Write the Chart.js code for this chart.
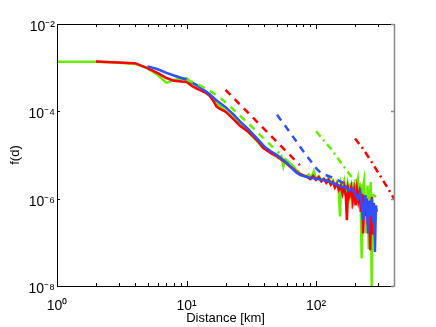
<!DOCTYPE html>
<html>
<head>
<meta charset="utf-8">
<script src="https://cdn.jsdelivr.net/npm/chart.js@4.4.1/dist/chart.umd.min.js"></script>
<style>
html,body{margin:0;padding:0;background:#fff;}
#wrap{width:436px;height:327px;}
</style>
</head>
<body>
<div id="wrap"><canvas id="c" width="436" height="327"></canvas></div>
<script>
// ---- data ----
const greenX = [1,2,3,4,5,6,7,8,9,10,11,12,13,14,15,16,17,18,19,20,22,24,26,28,30,33,36,39,42,45,48,51,54,56,58,61,64,67,70,73,76,80,84,88,92,96,100,105,110,115,120,125,130,135,140,145,150,153,156,160,165,170,175,180,185,190,195,200,205,210,215,220,225,230,235,240,245,250,255,260,265,269,273,278];
const greenY = [1.37e-3,1.37e-3,1.3e-3,1.22e-3,9.6e-4,6.8e-4,4.5e-4,5.2e-4,5.6e-4,5.8e-4,4.3e-4,3.7e-4,3.5e-4,2.9e-4,2.5e-4,2.1e-4,1.5e-4,1.35e-4,1.2e-4,1.02e-4,8.2e-5,6.3e-5,5.0e-5,4.1e-5,3.3e-5,2.5e-5,1.9e-5,1.45e-5,1.3e-5,1.15e-5,1.0e-5,8.5e-6,9.5e-6,5.5e-6,8e-6,7e-6,6.2e-6,5.5e-6,4.6e-6,4.2e-6,3.6e-6,3.4e-6,3.2e-6,3.6e-6,3.0e-6,4.2e-6,2.8e-6,3.3e-6,2.6e-6,2.9e-6,2.4e-6,3.1e-6,2.2e-6,2.6e-6,1.9e-6,2.4e-6,1.5e-6,3.9e-7,2.2e-6,1.7e-6,2.5e-6,1.3e-6,2.2e-6,1.2e-6,2.3e-6,6e-7,2.4e-6,1.0e-6,2.0e-6,2.8e-6,8e-7,2.2e-6,4.3e-8,1.8e-6,2.6e-6,5e-7,1.6e-7,2.0e-6,7e-8,1.1e-6,2.4e-6,1e-8,8e-7,6e-7];

const redX = [2,4,5,6,7,8,10,11,12,14,15,16,17,18,20,23,26,30,33,36,39,42,46,50,54,58,62,66,70,75,80,85,90,95,100,105,110,115,120,125,130,135,140,145,150,155,160,165,170,173,177,182,187,192,197,202,207,212,217,222,227,231,236,241,246,251,256,262,266,270,274];
const redY = [1.39e-3,1.27e-3,9.8e-4,7.5e-4,5.8e-4,5.0e-4,4.7e-4,3.8e-4,3.3e-4,2.7e-4,2.3e-4,1.8e-4,1.3e-4,1.15e-4,9.8e-5,6.6e-5,4.6e-5,3.4e-5,2.6e-5,2.0e-5,1.45e-5,1.25e-5,1.05e-5,9.5e-6,7.8e-6,6.8e-6,5.6e-6,5.0e-6,4.2e-6,3.7e-6,3.4e-6,3.2e-6,2.8e-6,3.3e-6,2.7e-6,3.1e-6,2.5e-6,2.8e-6,2.3e-6,2.7e-6,2.1e-6,2.4e-6,1.8e-6,2.2e-6,1.6e-6,2.0e-6,1.3e-6,1.9e-6,1.1e-6,3.2e-7,1.7e-6,1.2e-6,1.8e-6,9e-7,1.5e-6,7e-7,1.6e-6,9e-7,1.4e-6,5e-7,1.3e-6,1.6e-7,1.2e-6,4e-7,1.0e-6,2.5e-7,8e-7,6.6e-8,6e-7,1.1e-6,1.5e-7];

const blueX = [5,6,7,8,10,12,15,17,20,23,26,30,35,40,45,50,55,60,65,70,75,80,90,100,110,120,130,140,150,160,170,180,190,200,210,220,231,240,248,253,258,265,270,276,280,285,290,295];
const blueY = [1.07e-3,9.2e-4,7.6e-4,6.6e-4,5.3e-4,4.0e-4,2.5e-4,1.8e-4,1.25e-4,8.5e-5,5.8e-5,3.9e-5,2.4e-5,1.55e-5,1.2e-5,1.0e-5,8e-6,6.4e-6,5e-6,4e-6,3.5e-6,3.3e-6,3.0e-6,2.9e-6,2.7e-6,2.6e-6,2.4e-6,2.2e-6,2.0e-6,1.8e-6,1.9e-6,1.5e-6,1.7e-6,1.3e-6,1.0e-6,1.4e-6,3.2e-7,1.2e-6,5e-7,1.6e-7,9e-7,4e-7,1.0e-6,3e-7,8e-7,6e-8,7e-7,5e-7];

const greenDashX = [10,12,15,18,22,30,40,52];
const greenDashY = [5.3e-4,4.3e-4,3.0e-4,2.1e-4,1.25e-4,5.3e-5,2.3e-5,1.1e-5];
const redDashX = [20,75];
const redDashY = [3.1e-4,5.9e-6];
const blueDashX = [50,60,80,100,110,135,180];
const blueDashY = [8.3e-5,4.0e-5,1.2e-5,5.0e-6,3.8e-6,3.0e-6,2.0e-6];
const greenDotX = [100,130,160,190,230,290];
const greenDotY = [3.5e-5,1.4e-5,6e-6,3e-6,1.8e-6,1.1e-6];
const redDotX = [200,230,270,320,360,400];
const redDotY = [2.4e-5,1.4e-5,6.8e-6,3.0e-6,1.7e-6,1.0e-6];

const xTickValues = [1,2,3,4,5,6,7,8,9,10,20,30,40,50,60,70,80,90,100,200,300,400];
const xLabelValues = [1,10,100];
const xTickLabels = ['10⁰','10¹','10²'];
const yTickValues = [1e-8,1e-6,1e-4,1e-2];
const yTickLabels = ['10⁻⁸','10⁻⁶','10⁻⁴','10⁻²'];

const xTitle = 'Distance [km]';
const yTitle = 'f(d)';

// ---- chart ----
const GREEN = '#66ee00', RED = '#ff0000', BLUE = '#3050ff';
const pts = (xs, ys) => xs.map((x, i) => ({x: x, y: ys[i]}));
const same = (a, b) => Math.abs(Math.log10(a) - Math.log10(b)) < 1e-6;

const boxTicks = {
  id: 'boxTicks',
  afterDatasetsDraw(chart) {
    const {ctx, chartArea: {left, right, top, bottom}, scales: {x, y}} = chart;
    ctx.save();
    ctx.lineWidth = 1;
    ctx.strokeStyle = '#000';
    ctx.beginPath();
    xTickValues.forEach(v => {
      const px = Math.round(x.getPixelForValue(v)) + 0.5;
      const len = xLabelValues.some(m => same(m, v)) ? 5 : 3;
      ctx.moveTo(px, bottom); ctx.lineTo(px, bottom - len);
      ctx.moveTo(px, top); ctx.lineTo(px, top + len);
    });
    yTickValues.forEach(v => {
      const py = Math.round(y.getPixelForValue(v)) + 0.5;
      ctx.moveTo(left, py); ctx.lineTo(left + 3, py);
    });
    ctx.stroke();
    ctx.beginPath();
    ctx.moveTo(Math.round(left) + 0.5, Math.round(top) + 0.5);
    ctx.lineTo(Math.round(left) + 0.5, Math.round(bottom) + 0.5);
    ctx.lineTo(Math.round(right) + 0.5, Math.round(bottom) + 0.5);
    ctx.moveTo(Math.round(left) + 0.5, Math.round(top) + 0.5);
    ctx.lineTo(Math.round(right) + 0.5, Math.round(top) + 0.5);
    ctx.stroke();
    ctx.strokeStyle = '#888';
    ctx.lineWidth = 1.5;
    ctx.beginPath();
    ctx.moveTo(Math.round(right) + 0.5, Math.round(top));
    ctx.lineTo(Math.round(right) + 0.5, Math.round(bottom) + 1);
    yTickValues.forEach(v => {
      const py = Math.round(y.getPixelForValue(v)) + 0.5;
      ctx.moveTo(right, py); ctx.lineTo(right - 3, py);
    });
    ctx.stroke();
    ctx.restore();
  }
};

const solid = (label, data, color) => ({label, data, borderColor: color, borderWidth: 2.5, pointRadius: 0, tension: 0, fill: false});
const dashed = (label, data, color, dash) => ({label, data, borderColor: color, borderWidth: 2.5, borderDash: dash, pointRadius: 0, tension: 0, fill: false});

new Chart(document.getElementById('c'), {
  type: 'line',
  data: {
    datasets: [
      dashed('red dash-dot', pts(redDotX, redDotY), RED, [7, 4, 2, 4]),
      dashed('green dash-dot', pts(greenDotX, greenDotY), GREEN, [7, 4, 2, 4]),
      dashed('blue dashed', pts(blueDashX, blueDashY), BLUE, [7, 6]),
      dashed('red dashed', pts(redDashX, redDashY), RED, [7, 6]),
      dashed('green dashed', pts(greenDashX, greenDashY), GREEN, [7, 6]),
      solid('blue', pts(blueX, blueY), BLUE),
      solid('red', pts(redX, redY), RED),
      solid('green', pts(greenX, greenY), GREEN)
    ]
  },
  options: {
    responsive: false,
    animation: false,
    devicePixelRatio: 1,
    layout: {padding: {left: 0, top: 24, right: 42, bottom: 0}},
    plugins: {legend: {display: false}, tooltip: {enabled: false}},
    scales: {
      x: {
        type: 'logarithmic', min: 1, max: 400,
        grid: {display: false, drawTicks: false},
        border: {display: false},
        afterBuildTicks: s => { s.ticks = xTickValues.map(v => ({value: v})); },
        afterFit: s => { s.height = 41; },
        ticks: {
          autoSkip: false, maxRotation: 0, padding: 12, color: '#000',
          font: {family: 'Liberation Sans', size: 14},
          callback: v => { const i = xLabelValues.findIndex(m => same(m, v)); return i >= 0 ? xTickLabels[i] : ''; }
        },
        title: {display: true, text: xTitle, color: '#000', font: {family: 'Liberation Sans', size: 13}, padding: {top: 0, bottom: 1}}
      },
      y: {
        type: 'logarithmic', min: 1e-8, max: 1e-2,
        grid: {display: false, drawTicks: false},
        border: {display: false},
        afterBuildTicks: s => { s.ticks = yTickValues.map(v => ({value: v})); },
        afterFit: s => { s.width = 57; },
        ticks: {
          autoSkip: false, padding: 2, color: '#000', labelOffset: 3,
          font: {family: 'Liberation Sans', size: 14},
          callback: v => { const i = yTickValues.findIndex(m => same(m, v)); return i >= 0 ? yTickLabels[i] : ''; }
        },
        title: {display: true, text: yTitle, color: '#000', font: {family: 'Liberation Sans', size: 13}, padding: {top: 8, bottom: 0}}
      }
    }
  },
  plugins: [boxTicks]
});
</script>
</body>
</html>
